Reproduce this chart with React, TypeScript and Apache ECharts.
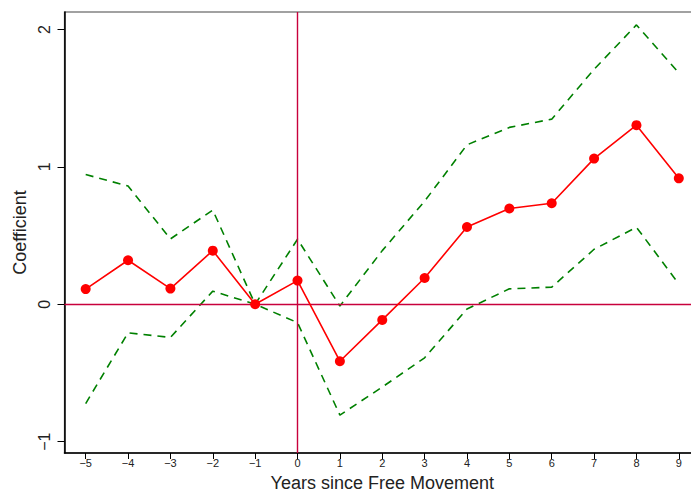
import React, { useEffect, useRef } from "react";
import * as echarts from "echarts";

const years = [-5, -4, -3, -2, -1, 0, 1, 2, 3, 4, 5, 6, 7, 8, 9];
const coef = [0.11, 0.32, 0.114, 0.39, 0, 0.172, -0.415, -0.114, 0.191, 0.562, 0.697, 0.735, 1.06, 1.303, 0.916];
const upper = [0.944, 0.86, 0.475, 0.685, 0, 0.473, -0.013, 0.39, 0.75, 1.16, 1.287, 1.347, 1.71, 2.033, 1.684];
const lower = [-0.723, -0.208, -0.242, 0.095, 0, -0.134, -0.807, -0.603, -0.39, -0.035, 0.112, 0.124, 0.4, 0.56, 0.148];
const yTicks = [-1, 0, 1, 2];

const fmt = (v: number) => String(v).replace("-", "\u2212");
const pair = (arr: number[]) => years.map((x, i) => [x, arr[i]]);

export default function App() {
  const ref = useRef<HTMLDivElement>(null);
  useEffect(() => {
    const chart = echarts.init(ref.current!, null, { renderer: "svg" });
    const font = "'Liberation Sans', Arial, Helvetica, sans-serif";
    chart.setOption({
      animation: false,
      grid: { left: 64.5, right: 2, top: 12, bottom: 40.5, show: true, borderColor: "#444", borderWidth: 1.2, containLabel: false },
      xAxis: {
        type: "value",
        min: -5.5,
        max: 9.5,
        name: "Years since Free Movement",
        nameLocation: "middle",
        nameGap: 21,
        nameTextStyle: { fontFamily: font, fontSize: 18, color: "#222" },
        splitLine: { show: false },
        axisLine: { show: true, onZero: false, lineStyle: { color: "#000", width: 1.5 } },
        axisTick: { show: true, length: 6, customValues: years, lineStyle: { color: "#000", width: 1 } },
        axisLabel: { customValues: years, formatter: (v: number) => fmt(v), fontFamily: font, fontSize: 11, color: "#222", margin: 4 },
      },
      yAxis: {
        type: "value",
        min: -1.083,
        max: 2.127,
        name: "Coefficient",
        nameLocation: "middle",
        nameGap: 34,
        nameTextStyle: { fontFamily: font, fontSize: 18, color: "#222" },
        splitLine: { show: false },
        axisLine: { show: true, onZero: false, lineStyle: { color: "#000", width: 1.5 } },
        axisTick: { show: true, length: 7, customValues: yTicks, lineStyle: { color: "#000", width: 1 } },
        axisLabel: { customValues: yTicks, rotate: 90, formatter: (v: number) => fmt(v), fontFamily: font, fontSize: 16, color: "#222", margin: 12 },
      },
      series: [
        {
          type: "line",
          data: pair(upper),
          symbol: "none",
          lineStyle: { color: "#008000", width: 1.6, type: [8, 6] },
          z: 2,
        },
        {
          type: "line",
          data: pair(lower),
          symbol: "none",
          lineStyle: { color: "#008000", width: 1.6, type: [8, 6] },
          z: 2,
        },
        {
          type: "line",
          data: pair(coef),
          symbol: "circle",
          symbolSize: 10,
          itemStyle: { color: "#ff0000" },
          lineStyle: { color: "#ff0000", width: 1.6 },
          z: 4,
          markLine: {
            silent: true,
            symbol: "none",
            label: { show: false },
            lineStyle: { color: "#c8003c", width: 1.4, type: "solid" },
            data: [{ yAxis: 0 }, { xAxis: 0 }],
            z: 3,
          },
        },
      ],
    });
    return () => chart.dispose();
  }, []);
  return (
    <div style={{ width: 691, height: 497, position: "absolute", left: 0, top: 0, overflow: "hidden" }}>
      <div ref={ref} style={{ width: 702, height: 497 }} />
    </div>
  );
}
